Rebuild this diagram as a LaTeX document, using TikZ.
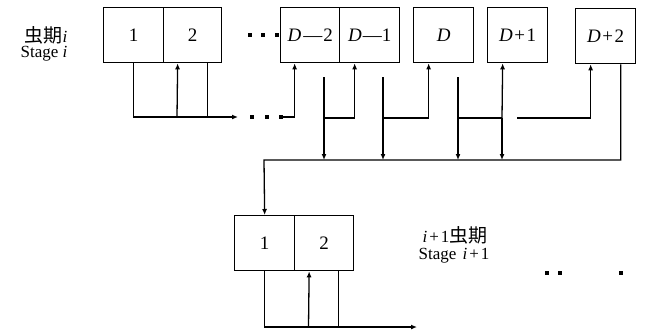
\documentclass[tikz,border=0pt]{standalone}
\usepackage{fontspec}
\setmainfont{Liberation Serif}
\newfontfamily\cjk{Noto Sans CJK SC}
\usetikzlibrary{arrows.meta}
\begin{document}
\begin{tikzpicture}[x=1pt,y=-1pt,
  cell/.style={draw, line width=1.3pt, minimum height=55pt, inner sep=0pt,
    anchor=north west, font=\fontsize{19}{19}\selectfont},
  wire/.style={line width=1.3pt},
  arr/.style={wire,-{Latex[length=6pt,width=5pt]}},
  dot/.style={fill, inner sep=0pt, minimum size=3.5pt},
  lbl/.style={font=\fontsize{17}{17}\selectfont, align=center, inner sep=0pt},
]
\useasboundingbox (0,0) rectangle (645,335);

% stage i cells
\node[cell, minimum width=60pt] (a1) at (103,7) {1};
\node[cell, minimum width=58pt] (a2) at (163,7) {2};
\node[cell, minimum width=59pt] (d2) at (280,7) {\textit{D}\kern2pt—\kern1pt2};
\node[cell, minimum width=60pt] (d1) at (339,7) {\textit{D}\kern1pt—1};
\node[cell, minimum width=60pt] (d0) at (413,7) {\textit{D}};
\node[cell, minimum width=60pt] (p1) at (487,7) {\textit{D}\kern1.5pt+\kern1.5pt1};
\node[cell, minimum width=60pt] (p2) at (575,8) {\textit{D}\kern1.5pt+\kern1.5pt2};

% stage i+1 cells
\node[cell, minimum width=60pt] (b1) at (234,215) {1};
\node[cell, minimum width=59pt] (b2) at (294,215) {2};

% labels
\node[lbl] (si) at (46,35) {{\fontsize{19}{19}\cjk 虫期}\textit{i}};
\node[lbl] (se) at (44,54) {Stage \textit{i}};
\node[lbl] (ti) at (455,235) {\textit{i}\kern2pt+\kern2pt1{\fontsize{19}{19}\cjk 虫期}};
\node[lbl] (te) at (454,256) {Stage \kern2pt\textit{i}\kern2pt+\kern2pt1};

% ellipsis marks
\node[dot] (e1) at (250,35) {};
\node[dot] (e2) at (263,35) {};
\node[dot] (e3) at (277,35) {};
\node[dot] (f1) at (252,117) {};
\node[dot] (f2) at (267,117) {};
\node[dot] (f3) at (281,117) {};
\node[dot] (g1) at (547,273) {};
\node[dot] (g2) at (560,273) {};
\node[dot] (g3) at (621,273) {};

% feedback loop of the first cells
\coordinate (l1) at (238,117);
\draw[arr] (a1.south) |- (l1);
\draw[arr] (177,117) -- ([xshift=-15pt]a2.south);
\draw[wire] ([xshift=15pt]a2.south) -- ++(0,55);
\draw[arr] (f3.center) -| ([xshift=-15.5pt]d2.south);

% transfers between the later cells
\coordinate (s1) at (324,77);
\coordinate (s2) at (383,77);
\coordinate (s3) at (458,77);
\draw[arr] (s1) -- (324,160);
\draw[arr] (324,118) -| ([xshift=-15pt]d1.south);
\draw[arr] (s2) -- (383,160);
\draw[arr] (383,118) -| ([xshift=-15pt]d0.south);
\draw[arr] (s3) -- (458,160);
\draw[wire] (458,118) -- (502,118);
\draw[arr] (502,118) -- ([xshift=-15pt]p1.south);
\draw[arr] (502,118) -- (502,160);
\draw[arr] (517,118) -| ([xshift=-15pt]p2.south);

% bus into the next stage
\coordinate (bus) at (264,160);
\draw[arr] ([xshift=15pt]p2.south) |- (bus) -- (b1.north);

% feedback loop of stage i+1
\coordinate (l2) at (417,327);
\draw[arr] (b1.south) |- (l2);
\draw[arr] (308.5,327) -- ([xshift=-15pt]b2.south);
\draw[wire] ([xshift=14.5pt]b2.south) -- ++(0,56);
\end{tikzpicture}
\end{document}
